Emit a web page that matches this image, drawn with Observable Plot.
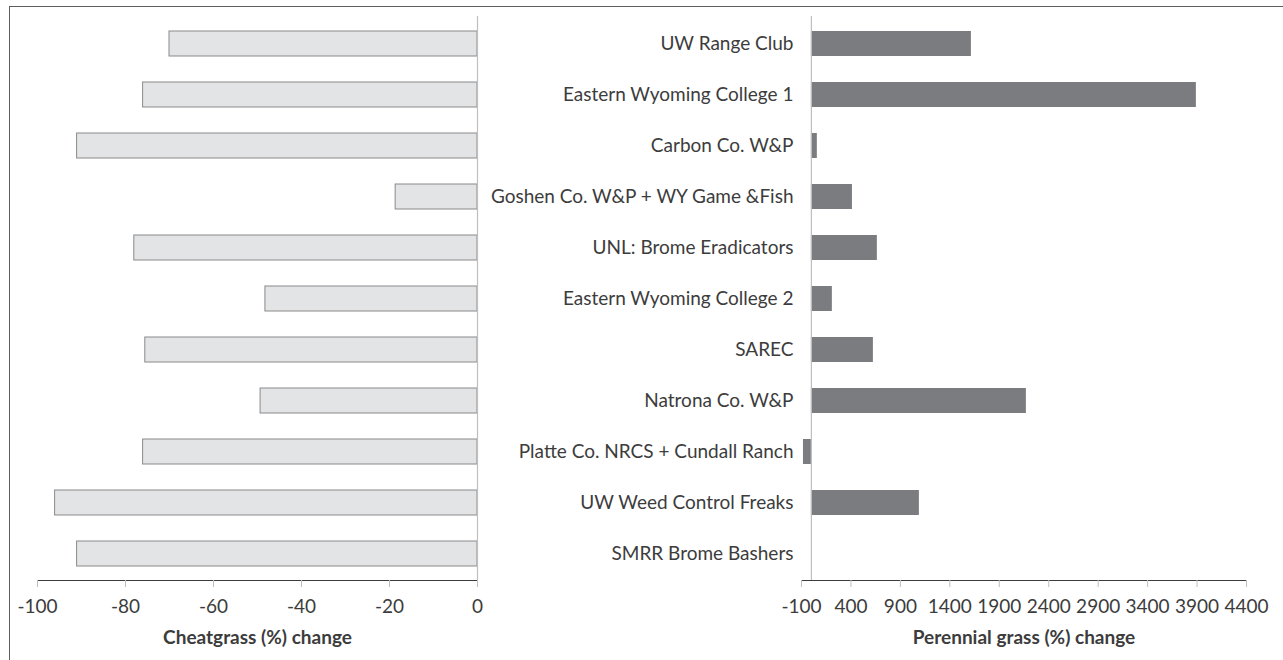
<!DOCTYPE html>
<html>
<head>
<meta charset="utf-8">
<script src="https://cdn.jsdelivr.net/npm/d3@7"></script>
<script src="https://cdn.jsdelivr.net/npm/@observablehq/plot@0.6"></script>
<style>
  html, body { margin: 0; padding: 0; background: #fff; overflow: hidden; }
  #wrap { position: relative; width: 1283px; height: 660px; }
  #wrap svg { position: absolute; left: 0; top: 0; }
  #border { position: absolute; left: 9px; top: 6px; width: 1400px; height: 800px;
            border-left: 1.5px solid #5e5e5e; border-top: 1.5px solid #5e5e5e; }
  g[aria-label="x-axis tick"] { color: #bfbfbf; }
  g[aria-label="x-axis tick label"], g[aria-label="y-axis tick label"] { color: #3c3c3c; }
</style>
</head>
<body>
<div id="wrap"><div id="border"></div></div>
<script>
const categories = [
  "UW Range Club",
  "Eastern Wyoming College 1",
  "Carbon Co. W&P",
  "Goshen Co. W&P + WY Game &Fish",
  "UNL: Brome Eradicators",
  "Eastern Wyoming College 2",
  "SAREC",
  "Natrona Co. W&P",
  "Platte Co. NRCS + Cundall Ranch",
  "UW Weed Control Freaks",
  "SMRR Brome Bashers"
];
const cheatgrass = [-70, -76, -91, -18.6, -78, -48.2, -75.5, -49.3, -76, -96, -91];
const perennial = [1618, 3893, 60, 415, 667, 212, 627, 2174, -80, 1092, 0];
const cheatTicks = [-100, -80, -60, -40, -20, 0];
const perTicks = [-100, 400, 900, 1400, 1900, 2400, 2900, 3400, 3900, 4400];
const cheatLabel = "Cheatgrass (%) change";
const perLabel = "Perennial grass (%) change";

const leftData = categories.map((c, i) => ({cat: c, v: cheatgrass[i]}));
const rightData = categories.map((c, i) => ({cat: c, v: perennial[i]}));

const W = 1283, H = 660;
const font = {fontSize: "19px", fontFamily: "Lato, 'Open Sans', sans-serif", background: "transparent", color: "#3c3c3c", overflow: "visible"};
const yOpts = {domain: categories, paddingInner: 0.51, paddingOuter: 0.255};

const left = Plot.plot({
  width: W, height: H,
  marginLeft: 37, marginRight: W - 477, marginTop: 16, marginBottom: 80,
  style: font,
  x: {domain: [-100, 0], ticks: cheatTicks, tickFormat: d => String(d), tickSize: 7, tickPadding: 12, line: true, label: null},
  y: {...yOpts, axis: null},
  marks: [
    Plot.barX(leftData, {y: "cat", x: "v", fill: "#e3e4e6", stroke: "#8a8a8a", strokeWidth: 1}),
    Plot.ruleX([0], {stroke: "#bfbfbf", strokeWidth: 1.2}),
    Plot.text([cheatLabel], {frameAnchor: "bottom", dy: 63, fontWeight: "bold", fontSize: 19, fill: "#3c3c3c"})
  ]
});

const right = Plot.plot({
  width: W, height: H,
  marginLeft: 801, marginRight: W - 1246, marginTop: 16, marginBottom: 80,
  style: font,
  x: {domain: [-100, 4400], ticks: perTicks, tickFormat: d => String(d), tickSize: 7, tickPadding: 12, line: true, label: null},
  y: {...yOpts, label: null, tickSize: 0, tickPadding: 8},
  marks: [
    Plot.barX(rightData, {y: "cat", x: "v", fill: "#7b7c80"}),
    Plot.ruleX([0], {stroke: "#bfbfbf", strokeWidth: 1.2}),
    Plot.text([perLabel], {frameAnchor: "bottom", dy: 63, fontWeight: "bold", fontSize: 19, fill: "#3c3c3c"})
  ]
});

const wrap = document.getElementById("wrap");
wrap.appendChild(left);
wrap.appendChild(right);
</script>
</body>
</html>
